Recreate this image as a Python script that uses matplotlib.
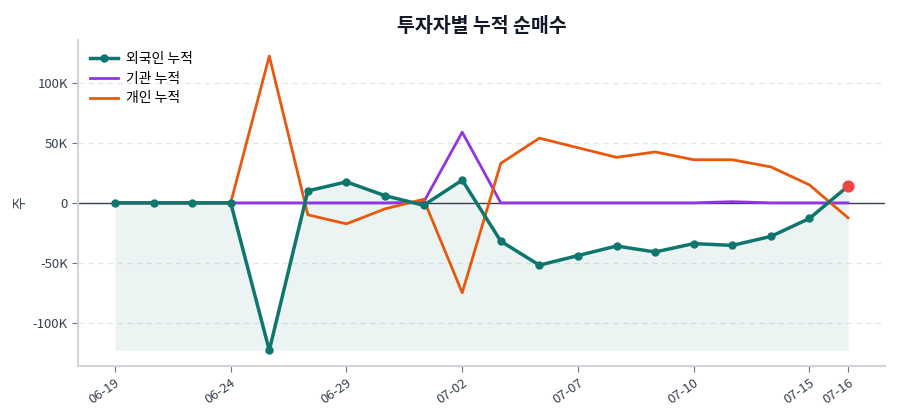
import matplotlib
matplotlib.use("Agg")
import matplotlib.pyplot as plt
from matplotlib.ticker import FuncFormatter
import numpy as np

plt.rcParams['font.family'] = ['Noto Sans CJK KR', 'DejaVu Sans']
plt.rcParams['axes.unicode_minus'] = False

dates = ["06-19", "06-20", "06-23", "06-24", "06-25", "06-26", "06-29", "06-30",
         "07-01", "07-02", "07-03", "07-04", "07-07", "07-08", "07-09", "07-10",
         "07-11", "07-14", "07-15", "07-16"]
foreign = [0, 0, 0, 0, -123000, 10000, 17500, 6000, -2000, 19000, -32000, -52000,
           -44000, -36000, -41000, -34000, -35500, -28000, -13000, 14000]
institution = [0, 0, 0, 0, 0, 0, 0, 0, 500, 59000, 0, 0,
               0, 0, 0, 0, 1000, 0, 0, 0]
individual = [0, 0, 0, 0, 122500, -10000, -17500, -5000, 3000, -75000, 33000, 54000,
              46000, 38000, 42500, 36000, 36000, 30000, 15000, -12500]
tick_idx = [0, 3, 6, 9, 12, 15, 18, 19]

x = np.arange(len(dates))

fig = plt.figure(figsize=(9, 4.2), dpi=100)
ax = fig.add_axes([0.087, 0.129, 0.896, 0.776])

c_for = '#0f766e'
c_inst = '#9333ea'
c_ind = '#ea580c'

ax.fill_between(x, foreign, min(foreign), color=c_for, alpha=0.08, linewidth=0, zorder=1)
ax.axhline(0, color='#374151', linewidth=1, zorder=2)
ax.plot(x, foreign, color=c_for, linewidth=2.5, marker='o', markersize=5, label='외국인 누적', zorder=5)
ax.plot(x, institution, color=c_inst, linewidth=2, label='기관 누적', zorder=3)
ax.plot(x, individual, color=c_ind, linewidth=2, label='개인 누적', zorder=4)
ax.scatter([x[-1]], [foreign[-1]], s=60, color='#ef4444', zorder=6)

ax.set_xlim(-0.95, len(dates) - 0.05)
ax.set_ylim(-136000, 136000)
ax.set_yticks([-100000, -50000, 0, 50000, 100000])
ax.yaxis.set_major_formatter(FuncFormatter(lambda v, p: '0' if v == 0 else f'{int(v/1000)}K'))
ax.set_xticks(tick_idx)
ax.set_xticklabels([dates[i] for i in tick_idx], rotation=35, ha='right', rotation_mode='anchor')

ax.grid(axis='y', linestyle=(0, (4, 3)), color='#e5e7eb', linewidth=1)
ax.set_axisbelow(True)
for s in ['top', 'right']:
    ax.spines[s].set_visible(False)
for s in ['left', 'bottom']:
    ax.spines[s].set_color('#d1d5db')
    ax.spines[s].set_linewidth(1.5)
ax.tick_params(axis='both', colors='#6b7280', labelcolor='#374151', labelsize=9.5, length=4)

ax.set_ylabel('주', color='#374151', fontsize=10)
ax.set_title('투자자별 누적 순매수', fontsize=14, fontweight='bold', color='#111827', pad=6)

leg = ax.legend(loc='upper left', frameon=False, fontsize=10, handlelength=2.0,
                handletextpad=0.6, borderaxespad=0.45, labelspacing=0.42)

fig.savefig('out.png', dpi=100)
